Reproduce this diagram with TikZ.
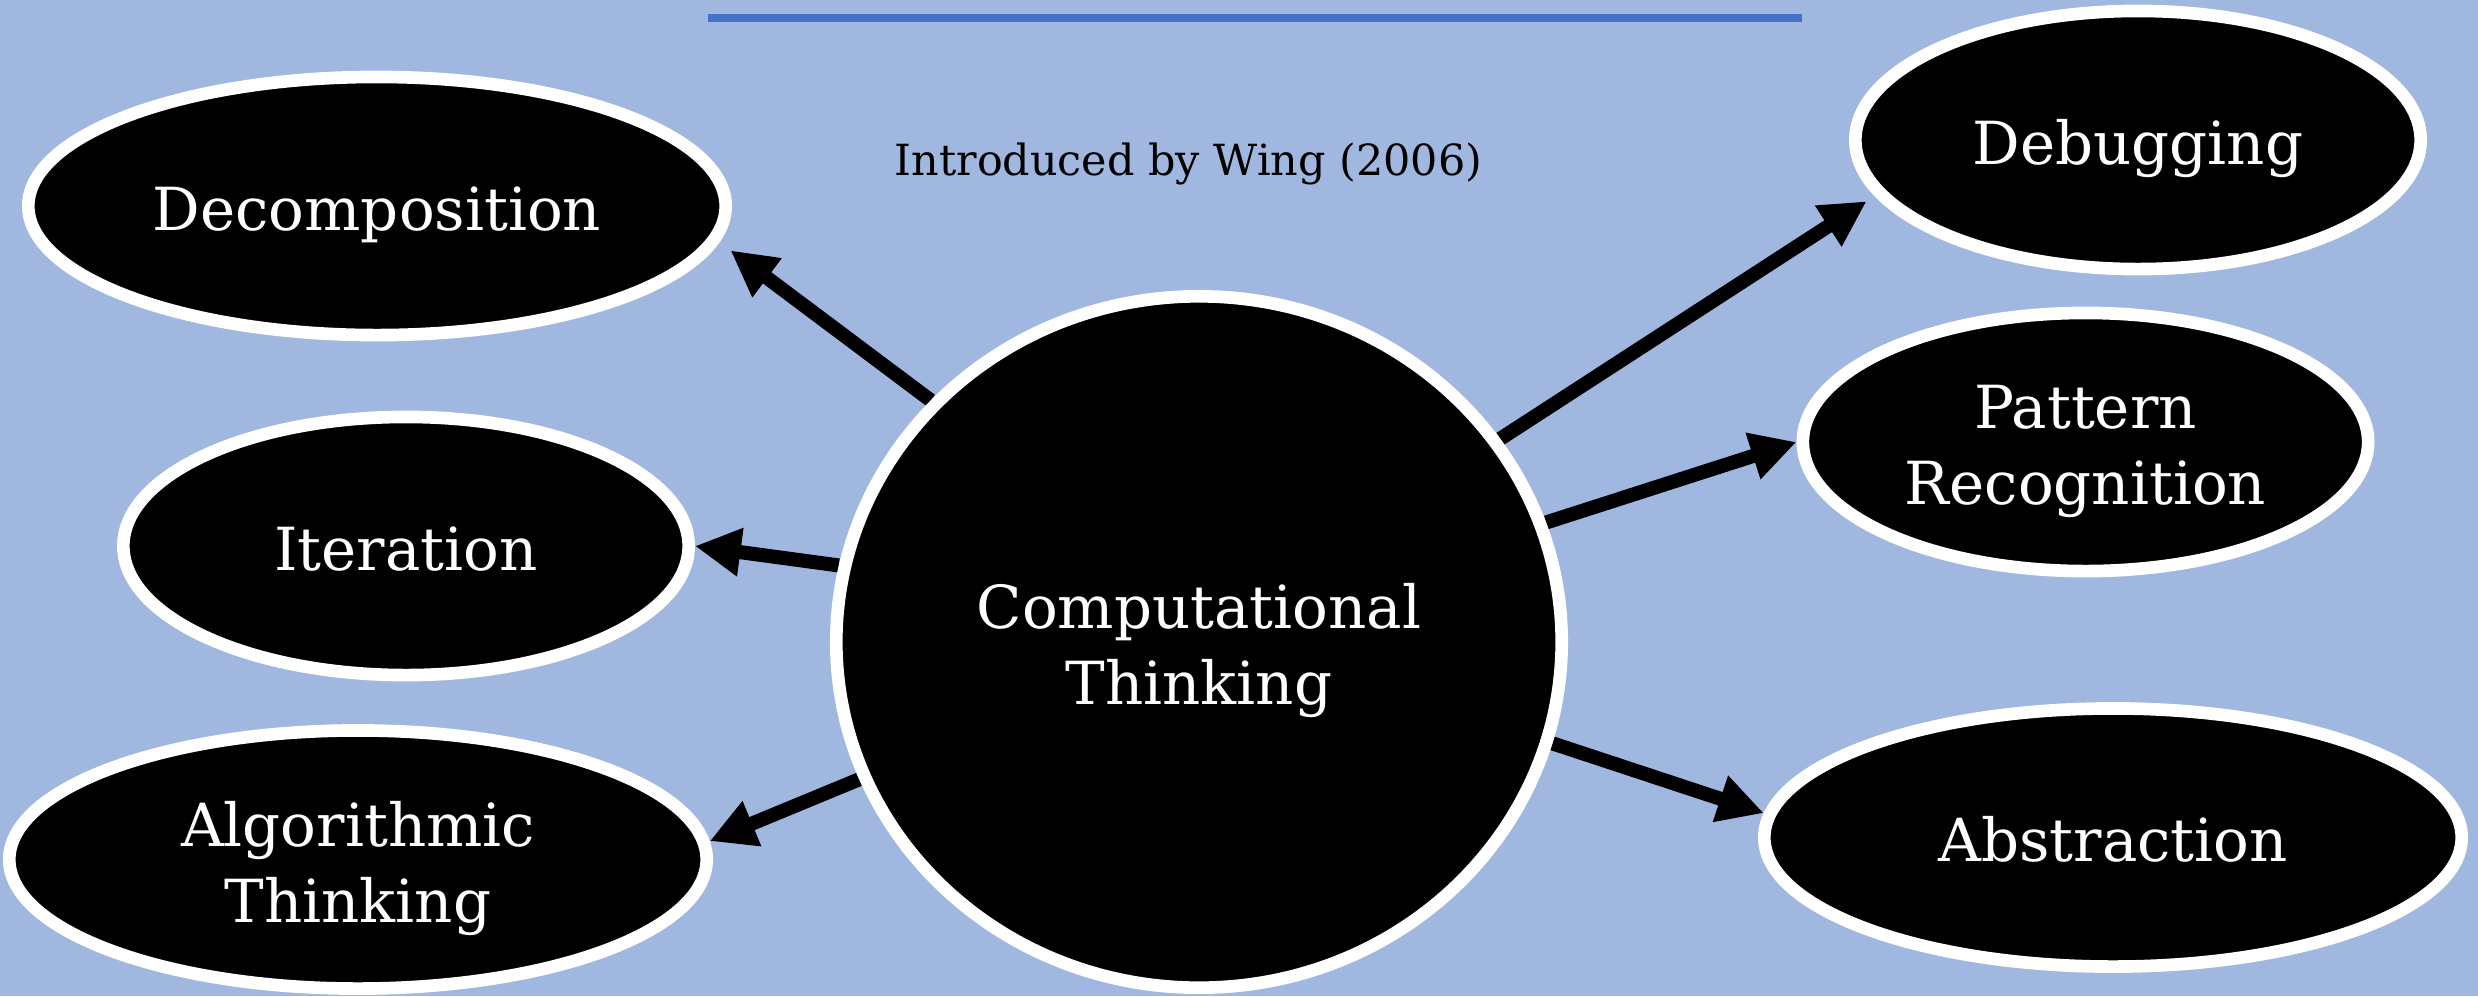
\documentclass[tikz,border=0pt]{standalone}
\usepackage{fontspec}
\setmainfont{DejaVu Serif}
\usetikzlibrary{arrows.meta,shapes.geometric}
\definecolor{bgc}{RGB}{160,183,224}
\definecolor{lineblue}{RGB}{68,114,196}
\newcommand{\twoline}[2]{\vbox{\halign{\hfil##\hfil\cr #1\cr #2\cr}}}
\pgfdeclarelayer{back}
\pgfdeclarelayer{mid}
\pgfsetlayers{back,mid,main}
\begin{document}
\begin{tikzpicture}[x=0.01cm,y=-0.01cm,
  bubble/.style={ellipse, draw=white, line width=3.6pt, fill=black, text=white, inner sep=0pt,
    font=\fontsize{16.9}{21.6}\selectfont, text depth=0pt, text height=13.66pt},
  big/.style={bubble, minimum width=6.97cm, minimum height=2.58cm},
  small/.style={bubble, minimum width=5.65cm, minimum height=2.58cm},
  twol/.style={text height=35.6pt},
  arr/.style={line width=4pt, line cap=butt, -{Triangle[length=13pt,width=13pt]}},
  note/.style={font=\fontsize{12.2}{15}\selectfont, text=black, inner sep=0pt, anchor=base}
]
\begin{pgfonlayer}{back}
\fill[bgc] (0,0) rectangle (2478,996);
\end{pgfonlayer}
\useasboundingbox (0,0) rectangle (2478,996);

\node[bubble, minimum width=7.25cm, minimum height=6.91cm, twol] (ct) at (1199,642) {\twoline{Computational}{Thinking}};
\node[big] (dec) at (377,206) {Decomposition};
\node[small] (it) at (406,546) {Iteration};
\node[big, twol] (alg) at (358,859.5) {\twoline{Algorithmic}{Thinking}};
\node[small] (deb) at (2138,140) {Debugging};
\node[small, twol] (pat) at (2085.5,442) {\twoline{Pattern}{Recognition}};
\node[big] (abs) at (2113,837.5) {Abstraction};
\node[note] (intro) at (1188.5,175) {Introduced by Wing (2006)};

\coordinate (rl) at (708,18);
\coordinate (rr) at (1802,18);
\draw[lineblue, line width=2.28pt] (rl) -- (rr);

\begin{pgfonlayer}{mid}
\draw[arr, shorten >=4pt] (ct.138.5) -- (dec.-6.7);
\draw[arr] (ct.168) -- (it.east);
\draw[arr] (ct.-158.5) -- (alg.3.5);
\draw[arr, shorten >=2.8pt] (ct.34.2) -- (deb.-168.2);
\draw[arr] (ct.19) -- (pat.west);
\draw[arr] (ct.-16.8) -- (abs.176);
\end{pgfonlayer}
\end{tikzpicture}
\end{document}
